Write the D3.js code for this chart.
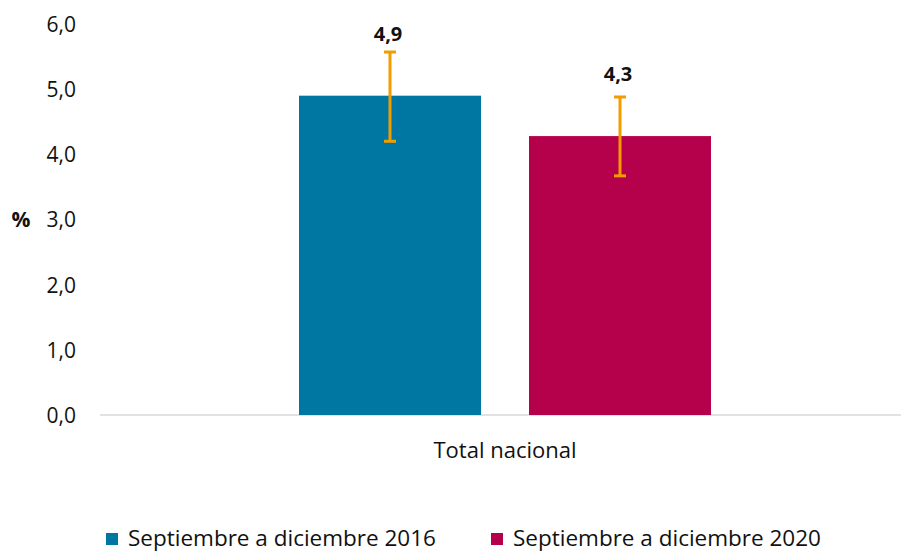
<!DOCTYPE html>
<html>
<head>
<meta charset="utf-8">
<script src="https://cdn.jsdelivr.net/npm/d3@7"></script>
<style>
  html, body { margin: 0; padding: 0; background: #fff; }
  svg { display: block; font-family: "Open Sans", "Noto Sans", sans-serif; }
</style>
</head>
<body>
<svg id="chart" width="901" height="552"></svg>
<script>
// ---- data ----
const categories = ["Total nacional"];
const seriesNames = ["Septiembre a diciembre 2016", "Septiembre a diciembre 2020"];
const seriesColors = ["#0077A2", "#B5004B"];
const values = [4.9, 4.28];
const valueLabels = ["4,9", "4,3"];
const errLow = [4.2, 3.67];
const errHigh = [5.57, 4.88];
const yTicks = [0, 1, 2, 3, 4, 5, 6];
const yTickLabels = ["0,0", "1,0", "2,0", "3,0", "4,0", "5,0", "6,0"];
const yAxisTitle = "%";

// ---- layout ----
const svg = d3.select("#chart");
const x0 = d3.scaleBand().domain(categories).range([100, 910]).padding(0);
const groupWidth = 412;
const y = d3.scaleLinear().domain([0, 6]).range([415, 24]);

const cx = x0(categories[0]) + x0.bandwidth() / 2;
const x1 = d3.scaleBand().domain(seriesNames)
  .range([cx - groupWidth / 2, cx + groupWidth / 2])
  .paddingInner(0.2087).paddingOuter(0);

// axis line
svg.append("line")
  .attr("x1", 100).attr("x2", 901)
  .attr("y1", y(0)).attr("y2", y(0))
  .attr("stroke", "#d9d9d9").attr("stroke-width", 1.5);

// y tick labels
const yAxis = d3.axisLeft(y).tickValues(yTicks)
  .tickFormat((d, i) => yTickLabels[i]).tickSize(0).tickPadding(0);
const yg = svg.append("g").attr("transform", "translate(76,0)").call(yAxis);
yg.select(".domain").remove();
yg.selectAll("text")
  .attr("font-size", 21)
  .attr("font-family", '"Open Sans", "Noto Sans", sans-serif')
  .attr("fill", "#111")
  .attr("dy", "0.355em");

// y axis title
svg.append("text")
  .attr("x", 21).attr("y", y(3)).attr("dy", "0.36em")
  .attr("text-anchor", "middle")
  .attr("font-size", 21).attr("font-weight", "bold")
  .attr("fill", "#111")
  .text(yAxisTitle);

// bars
const data = seriesNames.map((s, i) => ({
  s, v: values[i], lab: valueLabels[i], lo: errLow[i], hi: errHigh[i], c: seriesColors[i]
}));

svg.selectAll("rect.bar").data(data).enter().append("rect")
  .attr("class", "bar")
  .attr("x", d => x1(d.s))
  .attr("width", x1.bandwidth())
  .attr("y", d => y(d.v))
  .attr("height", d => y(0) - y(d.v))
  .attr("fill", d => d.c);

// error bars
const errColor = "#F39C00";
const capHalf = 6;
const eg = svg.selectAll("g.err").data(data).enter().append("g").attr("class", "err");
eg.append("line")
  .attr("x1", d => x1(d.s) + x1.bandwidth() / 2)
  .attr("x2", d => x1(d.s) + x1.bandwidth() / 2)
  .attr("y1", d => y(d.lo)).attr("y2", d => y(d.hi))
  .attr("stroke", errColor).attr("stroke-width", 3);
eg.append("line")
  .attr("x1", d => x1(d.s) + x1.bandwidth() / 2 - capHalf)
  .attr("x2", d => x1(d.s) + x1.bandwidth() / 2 + capHalf)
  .attr("y1", d => y(d.lo)).attr("y2", d => y(d.lo))
  .attr("stroke", errColor).attr("stroke-width", 3);
eg.append("line")
  .attr("x1", d => x1(d.s) + x1.bandwidth() / 2 - capHalf)
  .attr("x2", d => x1(d.s) + x1.bandwidth() / 2 + capHalf)
  .attr("y1", d => y(d.hi)).attr("y2", d => y(d.hi))
  .attr("stroke", errColor).attr("stroke-width", 3);

// value labels
svg.selectAll("text.vlab").data(data).enter().append("text")
  .attr("class", "vlab")
  .attr("x", d => x1(d.s) + x1.bandwidth() / 2 - 2)
  .attr("y", d => y(d.v) - 55)
  .attr("text-anchor", "middle")
  .attr("font-size", 20).attr("font-weight", "bold")
  .attr("fill", "#111")
  .text(d => d.lab);

// category label
svg.selectAll("text.cat").data(categories).enter().append("text")
  .attr("class", "cat")
  .attr("x", d => x0(d) + x0.bandwidth() / 2)
  .attr("y", 458)
  .attr("text-anchor", "middle")
  .attr("font-size", 22)
  .attr("fill", "#111")
  .text(d => d);

// legend
const legendX = [106, 491];
const lg = svg.selectAll("g.leg").data(data).enter().append("g")
  .attr("class", "leg")
  .attr("transform", (d, i) => `translate(${legendX[i]},0)`);
lg.append("rect")
  .attr("x", 0).attr("y", 533).attr("width", 12).attr("height", 12)
  .attr("fill", d => d.c);
lg.append("text")
  .attr("x", 22).attr("y", 546)
  .attr("font-size", 22.5)
  .attr("fill", "#111")
  .text(d => d.s);
</script>
</body>
</html>
